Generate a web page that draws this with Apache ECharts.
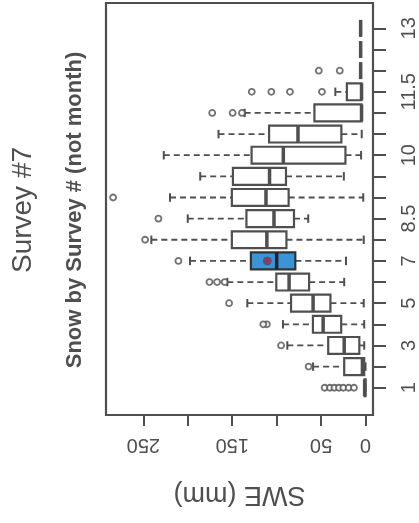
<!DOCTYPE html>
<html>
<head>
<meta charset="utf-8">
<script src="https://cdn.jsdelivr.net/npm/echarts@6.0.0/dist/echarts.min.js"></script>
<style>
  html, body { margin: 0; padding: 0; background: #fff; }
  #chart { width: 419px; height: 523px; }
</style>
</head>
<body>
<div id="chart"></div>
<script>
// survey number (categories), bottom to top
const surveys = ['1', '2', '3', '4', '5', '6', '7', '8', '8.5', '9', '9.5', '10', '10.5', '11', '11.5', '12', '12.5', '13'];
// box stats, SWE in mm
const sweMin = [0, 0, 1.5, 1.5, 2, 24, 22, 2, 64.5, 2.6, 24.4, 5, 4.3, 4.5, 4.5, 5.5, 5.5, 5.5];
const sweQ1 = [0, 1.5, 7, 27.4, 39.5, 63.5, 79, 89, 80.5, 86.5, 89.5, 22.6, 27.2, 4.5, 4.5, 5.5, 5.5, 5.5];
const sweMed = [1, 3.5, 24, 47.7, 59, 86, 100, 111, 103, 112, 108, 92.5, 76, 4.5, 4.5, 5.5, 5.5, 5.5];
const sweQ3 = [1, 24, 42, 59.2, 83.8, 100.4, 129, 150.4, 134, 150.4, 149.2, 128.2, 108.5, 57.5, 21, 5.5, 5.5, 5.5];
const sweMax = [1, 59, 88, 92.9, 133, 155.5, 197.5, 241, 200, 220, 186, 227, 165.4, 136, 34, 5.5, 5.5, 5.5];
// outliers
const outlierSurvey = ['1', '1', '1', '1', '1', '1', '1', '2', '3', '4', '4', '5', '6', '6', '6', '7', '8', '8.5', '9', '11', '11', '11', '11.5', '11.5', '11.5', '11.5', '12', '12'];
const outlierSwe = [46, 40, 35, 30, 25, 19, 13, 64, 95, 111, 115, 153.5, 158.5, 167, 175.6, 210.5, 248, 233, 284, 139, 149.5, 172.5, 49, 85, 106, 128, 29, 52.6];
// highlighted survey
const highlightSurvey = '7';
const highlightSwe = [110.5];
// tick labels
const sweTicks = [0, 50, 100, 150, 200, 250];
const sweTickLabels = [0, 50, 150, 250];
const surveyLabels = ['1', '3', '5', '7', '8.5', '10', '11.5', '13'];

const ink = '#4f4f4f';
const font = 'Liberation Sans, Arial, sans-serif';

const boxData = surveys.map((s, i) => [i, sweMin[i], sweQ1[i], sweMed[i], sweQ3[i], sweMax[i]]);
const outlierData = outlierSwe.map((v, k) => [v, surveys.indexOf(outlierSurvey[k])]);
const hotData = highlightSwe.map(v => [v, surveys.indexOf(highlightSurvey)]);

function renderBox(params, api) {
  const i = api.value(0);
  const lo = api.coord([api.value(1), i]);
  const q1 = api.coord([api.value(2), i]);
  const md = api.coord([api.value(3), i]);
  const q3 = api.coord([api.value(4), i]);
  const hi = api.coord([api.value(5), i]);
  const y = md[1];
  const h = api.size([0, 1])[1] * 0.8;
  const hot = surveys[i] === highlightSurvey;
  const dash = { stroke: ink, lineWidth: 1.8, lineDash: [6, 4] };
  const solid = { stroke: ink, lineWidth: 2 };
  return {
    type: 'group',
    children: [
      { type: 'line', shape: { x1: hi[0], y1: y, x2: q3[0], y2: y }, style: dash },
      { type: 'line', shape: { x1: q1[0], y1: y, x2: lo[0], y2: y }, style: dash },
      { type: 'line', shape: { x1: hi[0], y1: y - h / 4, x2: hi[0], y2: y + h / 4 }, style: solid },
      { type: 'line', shape: { x1: lo[0], y1: y - h / 4, x2: lo[0], y2: y + h / 4 }, style: solid },
      {
        type: 'rect',
        shape: { x: q3[0], y: y - h / 2, width: q1[0] - q3[0], height: h },
        style: { fill: hot ? '#3a94d8' : '#fff', stroke: hot ? '#333' : ink, lineWidth: 2.2 }
      },
      { type: 'line', shape: { x1: md[0], y1: y - h / 2, x2: md[0], y2: y + h / 2 }, style: { stroke: hot ? '#223' : ink, lineWidth: 3.5 } }
    ]
  };
}

const chart = echarts.init(document.getElementById('chart'));
chart.setOption({
  animation: false,
  grid: {
    left: 106, right: 46, top: 3, bottom: 108,
    show: true, borderColor: ink, borderWidth: 2.2, backgroundColor: 'transparent'
  },
  xAxis: {
    type: 'value',
    inverse: true,
    min: -8.4,
    max: 292,
    splitLine: { show: false },
    axisLine: { show: false, onZero: false },
    axisTick: { show: true, length: 11, lineStyle: { color: ink, width: 2 }, customValues: sweTicks },
    axisLabel: { rotate: 180, margin: 20, color: ink, fontSize: 20, fontFamily: font, customValues: sweTickLabels },
    name: 'SWE (mm)',
    nameLocation: 'middle',
    nameRotate: 180,
    nameGap: 66,
    nameTextStyle: { color: ink, fontSize: 27, fontFamily: font }
  },
  yAxis: {
    type: 'value',
    position: 'right',
    min: -1.29,
    max: 18.2,
    splitLine: { show: false },
    axisLine: { show: false, onZero: false },
    axisTick: { show: true, length: 13, lineStyle: { color: ink, width: 2 }, customValues: surveys.map((s, i) => i) },
    axisLabel: {
      rotate: 90, margin: 26, color: ink, fontSize: 20, fontFamily: font,
      customValues: surveyLabels.map(s => surveys.indexOf(s)),
      formatter: v => surveys[Math.round(v)]
    }
  },
  graphic: [
    {
      type: 'text', x: 23, y: 210, rotation: Math.PI / 2,
      style: { text: 'Survey #7', fill: ink, font: '28px ' + font, textAlign: 'center', textVerticalAlign: 'middle' }
    },
    {
      type: 'text', x: 75, y: 210, rotation: Math.PI / 2,
      style: { text: 'Snow by Survey # (not month)', fill: ink, font: 'bold 22px ' + font, textAlign: 'center', textVerticalAlign: 'middle' }
    }
  ],
  series: [
    {
      type: 'custom',
      renderItem: renderBox,
      encode: { x: [1, 2, 3, 4, 5], y: 0 },
      data: boxData,
      z: 2
    },
    {
      type: 'scatter',
      data: outlierData,
      symbol: 'circle',
      symbolSize: 6,
      itemStyle: { color: '#fff', borderColor: ink, borderWidth: 1.8 },
      z: 3
    },
    {
      type: 'scatter',
      data: hotData,
      symbol: 'circle',
      symbolSize: 8,
      itemStyle: { color: '#a8243c', borderColor: '#2a5f90', borderWidth: 1 },
      z: 4
    }
  ]
});
</script>
</body>
</html>
